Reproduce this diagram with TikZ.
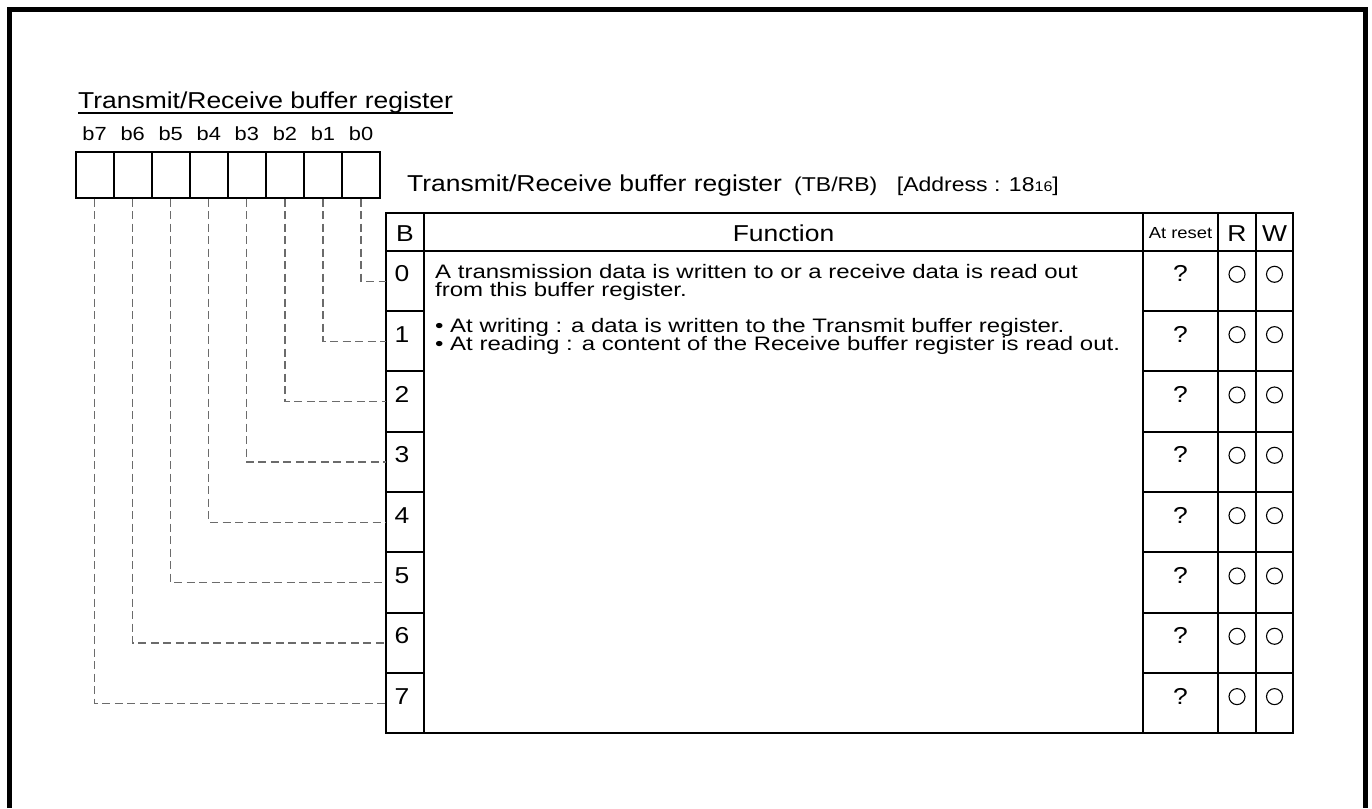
\documentclass[tikz,border=0pt]{standalone}
\usepackage{fontspec}
\setmainfont{Liberation Sans}[FakeStretch=1.15]
\newfontfamily\bodyfam{Liberation Sans}[FakeStretch=1.23]
\newcommand\fsTitle{\fontsize{23pt}{27pt}\selectfont}
\newcommand\fsBit{\fontsize{19pt}{22pt}\selectfont}
\newcommand\fsSmall{\fontsize{20pt}{24pt}\selectfont}
\newcommand\fsSub{\fontsize{14pt}{16pt}\selectfont}
\newcommand\fsBody{\bodyfam\fontsize{19.5pt}{18pt}\selectfont}
\newcommand\fsHead{\fontsize{23pt}{27pt}\selectfont}
\newcommand\fsReset{\fontsize{16pt}{19pt}\selectfont}
\begin{document}
\begin{tikzpicture}[x=1pt,y=-1pt,
  frameline/.style={line width=5.3pt},
  tline/.style={line width=1.8pt},
  bitbox/.style={draw, line width=2pt, minimum width=38.05pt, minimum height=46pt, inner sep=0pt},
  dashline/.style={draw=black!58, line width=1.2pt, dash pattern=on 8pt off 4.5pt},
  txt/.style={inner sep=0pt, anchor=base west},
  bodyline/.style={inner sep=0pt, anchor=base west, text height=14pt, text depth=3pt},
  ctr/.style={inner sep=0pt, anchor=base},
  rw/.style={circle, draw, line width=1.1pt, minimum size=16pt, inner sep=0pt}]
\useasboundingbox (0,0) rectangle (1372,808);
% outer frame
\draw[frameline] (9.5,808) -- (9.5,9.5) -- (1365.8,9.5) -- (1365.8,808);

% title
\node[txt] (title) at (78,108.3) {\fsTitle Transmit/Receive buffer register};
\draw[line width=1.5pt] ([yshift=-4.6pt]title.base west) -- ([yshift=-4.6pt]title.base east);

% bit boxes and labels
\foreach \k in {0,...,7} {
  \pgfmathsetmacro\bx{361-38.05*\k}
  \node[bitbox] (box\k) at (\bx,174.7) {};
  \node[ctr] (lab\k) at (\bx,140) {\fsBit b\k};
}

% register name
\node[txt] (regname) at (407,191.7) {\fsTitle Transmit/Receive buffer register};
\node[txt] (abbr) at (794,191.7) {\fsSmall (TB/RB)};
\node[txt] (addr) at (896.7,191.7) {\fsSmall [Address : 18{\fsSub 16}]};

% table frame
\draw[tline] (386,213.3) rectangle (1293.3,733.3);
\foreach \xx in {424,1142.7,1218.3,1255.7}
  \draw[tline] (\xx,213.3) -- (\xx,733.3);
\draw[tline] (386,250.7) -- (1293.3,250.7);
\foreach \k in {1,...,7} {
  \pgfmathsetmacro\ry{250.7+60.33*\k}
  \draw[tline] (386,\ry) -- (424,\ry);
  \draw[tline] (1142.7,\ry) -- (1293.3,\ry);
}

% header
\node[ctr] (hB) at (405,241.5) {\fsHead B};
\node[ctr] (hF) at (783.5,241.5) {\fsHead Function};
\node[ctr] (hAt) at (1180.5,238.5) {\fsReset At reset};
\node[ctr] (hR) at (1237,241.5) {\fsHead R};
\node[ctr] (hW) at (1274.5,241.5) {\fsHead W};

% function text
\node[bodyline] (f1) at (435,278.3) {\fsBody A transmission data is written to or a receive data is read out};
\node[bodyline] (f2) at (435,296.7) {\fsBody from this buffer register.};
\node[bodyline] (f3) at (435,332.0) {\fsBody • At writing : a data is written to the Transmit buffer register.};
\node[bodyline] (f4) at (435,350.6) {\fsBody • At reading : a content of the Receive buffer register is read out.};

% rows
\foreach \k in {0,...,7} {
  \pgfmathsetmacro\ry{250.7+60.33*\k}
  \node[ctr] (n\k) at (402,\ry+31) {\fsHead \k};
  \node[ctr] (q\k) at (1180.5,\ry+31) {\fsHead ?};
  \node[rw] (r\k) at (1237,\ry+23.6) {};
  \node[rw] (w\k) at (1274.5,\ry+23.6) {};
  \coordinate (t\k) at (386,\ry+30.4);
  \draw[dashline] (box\k.south) |- (t\k);
}
\end{tikzpicture}
\end{document}
